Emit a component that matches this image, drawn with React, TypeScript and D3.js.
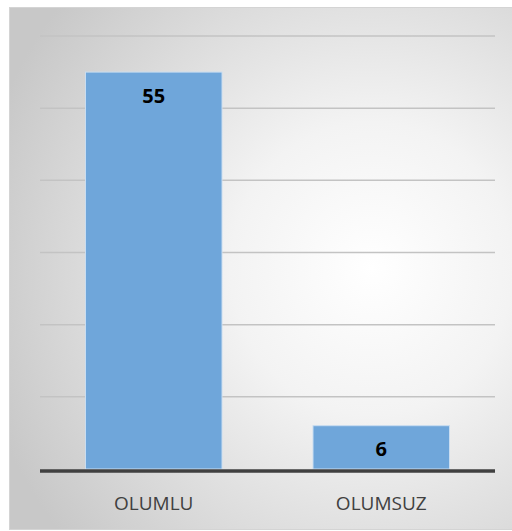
import React from 'react';
import * as d3 from 'd3';

// chart values
const categories = ['OLUMLU', 'OLUMSUZ'];
const values = [55, 6];
const yTicks = [10, 20, 30, 40, 50, 60];

const W = 512;
const H = 531;
const margin = { top: 36, right: 17, bottom: 62, left: 40 };

const App = () => {
  const x = d3
    .scaleBand<string>()
    .domain(categories)
    .range([margin.left, W - margin.right])
    .paddingInner(0.4)
    .paddingOuter(0.2);

  const y = d3
    .scaleLinear()
    .domain([0, 60])
    .range([H - margin.bottom, margin.top]);

  const font = '"Open Sans", "Liberation Sans", sans-serif';

  return (
    <svg
      width={W}
      height={H}
      style={{ position: 'absolute', left: 0, top: 0, background: '#fff' }}
    >
      <defs>
        <radialGradient id="bg" cx="0.72" cy="0.5" r="0.8" fx="0.72" fy="0.5">
          <stop offset="0%" stopColor="#ffffff" />
          <stop offset="35%" stopColor="#f3f3f3" />
          <stop offset="100%" stopColor="#c8c8c8" />
        </radialGradient>
      </defs>

      {/* chart frame */}
      <rect x={9.5} y={7.5} width={W - 9} height={H - 9} fill="url(#bg)" stroke="#d4d4d4" strokeWidth={1} />

      {/* gridlines */}
      {yTicks.map(t => (
        <line
          key={t}
          x1={margin.left}
          x2={W - margin.right}
          y1={y(t)}
          y2={y(t)}
          stroke="#c3c3c3"
          strokeWidth={1.5}
        />
      ))}

      {/* bars */}
      {categories.map((c, i) => (
        <rect
          key={c}
          x={x(c)}
          y={y(values[i])}
          width={x.bandwidth()}
          height={y(0) - y(values[i])}
          fill="#6fa6da"
          stroke="#c9ddf1"
          strokeWidth={1}
        />
      ))}

      {/* value labels */}
      {categories.map((c, i) => (
        <text
          key={c}
          x={(x(c) as number) + x.bandwidth() / 2}
          y={y(values[i]) + 23}
          textAnchor="middle"
          dominantBaseline="central"
          fontFamily={font}
          fontWeight={700}
          fontSize={20}
          fill="#000"
        >
          {values[i]}
        </text>
      ))}

      {/* baseline */}
      <line
        x1={margin.left}
        x2={W - margin.right}
        y1={y(0) + 2}
        y2={y(0) + 2}
        stroke="#404040"
        strokeWidth={3.5}
      />

      {/* category labels */}
      {categories.map(c => (
        <text
          key={c}
          x={(x(c) as number) + x.bandwidth() / 2}
          y={y(0) + 34}
          textAnchor="middle"
          dominantBaseline="central"
          fontFamily={font}
          fontSize={19}
          fill="#404040"
        >
          {c}
        </text>
      ))}
    </svg>
  );
};

export default App;
